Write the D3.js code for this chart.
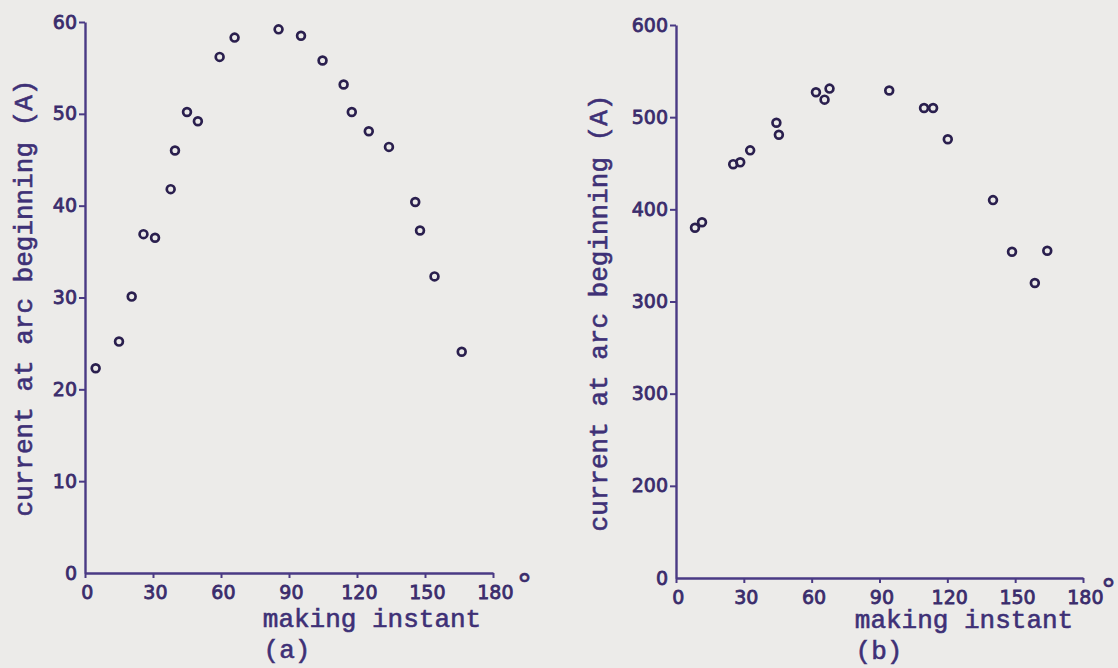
<!DOCTYPE html>
<html>
<head>
<meta charset="utf-8">
<script src="https://cdn.jsdelivr.net/npm/d3@7"></script>
<style>
  html, body { margin: 0; padding: 0; background: #ecebe9; }
  svg { display: block; }
  .tick text { font-family: "DejaVu Sans", sans-serif; font-size: 19px; fill: #3a2c6c; stroke: #3a2c6c; stroke-width: 0.8px; }
  .tick line { stroke: #4a3a84; stroke-width: 2px; }
  .domain { stroke: #4a3a84; stroke-width: 2.4px; }
  .title { font-family: "Liberation Mono", monospace; font-size: 26px; fill: #3e3076; stroke: #3e3076; stroke-width: 0.6px; }
  .deg { font-family: "DejaVu Sans", sans-serif; font-size: 30px; fill: #3a2c6c; stroke: #3a2c6c; stroke-width: 0.6px; }
</style>
</head>
<body>
<svg id="svg" width="1118" height="668"></svg>
<script>
// panel (a): small fuse
const aAngle   = [4.7, 15.0, 20.6, 25.8, 30.9, 37.8, 39.7, 45.0, 49.8, 59.4, 66.0,
                  85.4, 95.3, 104.8, 114.1, 117.7, 125.2, 134.1, 145.7, 147.8, 154.2, 166.2];
const aCurrent = [22.3, 25.2, 30.1, 36.9, 36.5, 41.8, 46.0, 50.2, 49.2, 56.2, 58.3,
                  59.2, 58.5, 55.8, 53.2, 50.2, 48.1, 46.4, 40.4, 37.3, 32.3, 24.1];

// panel (b): large fuse
const bAngle   = [8.4, 11.5, 25.3, 28.4, 32.8, 44.4, 45.5, 61.9, 65.7, 67.9,
                  94.3, 109.7, 113.7, 120.2, 140.2, 148.6, 158.7, 164.2];
const bCurrent = [380, 386, 449, 451, 464, 494, 481, 527, 519, 531,
                  529, 510, 510, 476, 410, 354, 320, 355];

const xTicks = [0, 30, 60, 90, 120, 150, 180];
const aYTicks = [0, 10, 20, 30, 40, 50, 60];
const aYLabels = ["0", "10", "20", "30", "40", "50", "60"];
const bYTicks = [0, 100, 200, 300, 400, 500, 600];
// labels as printed in the original figure
const bYLabels = ["0", "200", "300", "300", "400", "500", "600"];

const svg = d3.select('#svg');

function panel(cfg) {
  const x = d3.scaleLinear().domain([0, 180]).range(cfg.xRange);
  const y = d3.scaleLinear().domain(cfg.yDomain).range(cfg.yRange);
  const g = svg.append('g');

  g.append('g')
    .attr('transform', `translate(0,${cfg.yRange[0]})`)
    .call(d3.axisBottom(x).tickValues(xTicks).tickSize(5).tickSizeOuter(0).tickPadding(cfg.xPad))
    .call(a => a.selectAll('.tick text').attr('dx', '0.1em'));

  g.append('g')
    .attr('transform', `translate(${cfg.xRange[0]},0)`)
    .call(d3.axisLeft(y).tickValues(cfg.yTicks).tickSize(6).tickSizeOuter(0).tickPadding(2)
      .tickFormat((d, i) => cfg.yLabels[i]))
    .call(a => a.selectAll('.tick').filter(d => d === 0).select('line').remove());

  g.selectAll('circle.pt')
    .data(d3.zip(cfg.angle, cfg.current))
    .join('circle')
    .attr('class', 'pt')
    .attr('cx', d => x(d[0]))
    .attr('cy', d => y(d[1]))
    .attr('r', 3.9)
    .attr('fill', 'none')
    .attr('stroke', '#2a1f4e')
    .attr('stroke-width', 2.7);

  g.append('text').attr('class', 'deg')
    .attr('x', x(180) + cfg.degDx).attr('y', cfg.yRange[0] + cfg.degDy)
    .text('°');

  g.append('text').attr('class', 'title')
    .attr('text-anchor', 'middle')
    .attr('x', cfg.xTitleX).attr('y', cfg.xTitleY)
    .text('making instant');

  g.append('text').attr('class', 'title')
    .attr('text-anchor', 'middle')
    .attr('transform', `translate(${cfg.yTitleX},${cfg.yTitleY}) rotate(-90)`)
    .text('current at arc beginning (A)');

  g.append('text').attr('class', 'title')
    .attr('text-anchor', 'middle')
    .attr('x', cfg.tagX).attr('y', cfg.tagY)
    .text(cfg.tag);
}

panel({
  angle: aAngle, current: aCurrent,
  xRange: [85, 493], yDomain: [0, 60], yRange: [573, 22],
  yTicks: aYTicks, yLabels: aYLabels, xPad: 8,
  degDx: 24, degDy: 22,
  xTitleX: 372, xTitleY: 627,
  yTitleX: 32, yTitleY: 298,
  tag: '(a)', tagX: 287, tagY: 658
});

panel({
  angle: bAngle, current: bCurrent,
  xRange: [676, 1083], yDomain: [0, 600], yRange: [578, 25],
  yTicks: bYTicks, yLabels: bYLabels, xPad: 8,
  degDx: 18, degDy: 22,
  xTitleX: 964, xTitleY: 628,
  yTitleX: 607, yTitleY: 313,
  tag: '(b)', tagX: 879, tagY: 659
});
</script>
</body>
</html>
